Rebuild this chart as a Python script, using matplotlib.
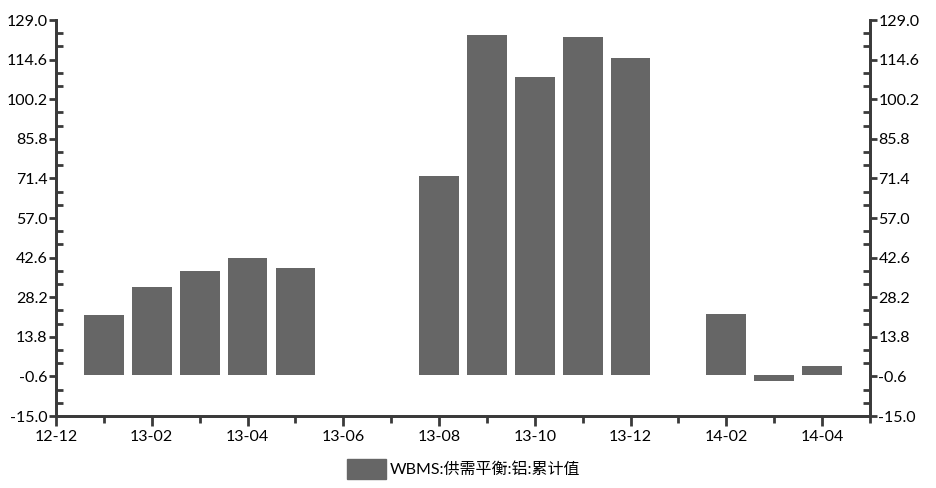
import pandas as pd
import matplotlib
matplotlib.use('Agg')
import matplotlib.pyplot as plt
from matplotlib.ticker import MultipleLocator, AutoMinorLocator
from matplotlib.patches import Patch

plt.rcParams['font.family'] = ['Lato', 'Noto Sans CJK SC', 'DejaVu Sans']

# данные: месяц и накопленный баланс
months = ['2013-01', '2013-02', '2013-03', '2013-04', '2013-05',
          '2013-08', '2013-09', '2013-10', '2013-11', '2013-12',
          '2014-02', '2014-03', '2014-04']
values = [21.7, 31.9, 37.7, 42.5, 38.8,
          72.3, 123.5, 108.3, 122.8, 115.2,
          22.1, -2.3, 3.2]
series_name = 'WBMS:供需平衡:铝:累计值'
yticks = [-15.0, -0.6, 13.8, 28.2, 42.6, 57.0, 71.4, 85.8, 100.2, 114.6, 129.0]

start = pd.Period('2012-12', freq='M')
end = pd.Period('2014-05', freq='M')
xpos = [(pd.Period(m, freq='M') - start).n for m in months]
span = (end - start).n
tick_pos = list(range(0, span + 1, 2))
tick_lab = [(start + i).strftime('%y-%m') for i in tick_pos]

fig = plt.figure(figsize=(9.36, 4.88), dpi=100)
ax = fig.add_axes([56 / 936, 1 - 416 / 488, 814 / 936, 396 / 488])
ax.bar(xpos, values, width=0.83, color='#666666')

ax.set_xlim(0, span)
ax.set_ylim(-15, 129)
ax.set_xticks(tick_pos)
ax.set_xticklabels(tick_lab)
ax.xaxis.set_minor_locator(MultipleLocator(1))
ax.set_yticks(yticks)
ax.set_yticklabels([f'{v:.1f}' for v in yticks])
ax.yaxis.set_minor_locator(AutoMinorLocator(3))

ax2 = ax.twinx()
ax2.set_ylim(-15, 129)
ax2.set_yticks(yticks)
ax2.set_yticklabels([f'{v:.1f}' for v in yticks])
ax2.yaxis.set_minor_locator(AutoMinorLocator(3))

spine_col = '#3a3a3a'
for a in (ax, ax2):
    a.spines['top'].set_visible(False)
    for s in a.spines.values():
        s.set_color(spine_col)
        s.set_linewidth(2)
    a.tick_params(which='major', direction='out', length=5, width=2,
                  color=spine_col, labelsize=11.5, pad=1)
    a.tick_params(axis='y', which='minor', direction='in', length=5, width=2,
                  color=spine_col)
ax.tick_params(axis='x', which='minor', direction='out', length=5, width=2,
               color=spine_col)
ax.tick_params(axis='x', which='major', length=7, pad=3)

fig.legend(handles=[Patch(color='#666666', label=series_name)],
           loc='lower center', bbox_to_anchor=(0.495, -0.012), frameon=False,
           fontsize=11.5, handlelength=2.5, handleheight=1.6, handletextpad=0.2)

fig.savefig('out.png', dpi=100)
